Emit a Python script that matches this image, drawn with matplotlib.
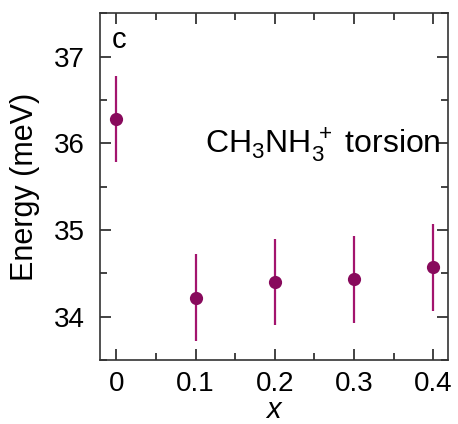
import numpy as np
import matplotlib.pyplot as plt
from matplotlib.ticker import MultipleLocator

plt.rcParams['font.family'] = ['Liberation Sans', 'DejaVu Sans']
plt.rcParams['mathtext.fontset'] = 'custom'
plt.rcParams['mathtext.rm'] = 'Liberation Sans'
plt.rcParams['mathtext.it'] = 'Liberation Sans:italic'

x = [0.0, 0.1, 0.2, 0.3, 0.4]
energy = [36.28, 34.22, 34.40, 34.43, 34.57]
err = [0.50, 0.50, 0.50, 0.50, 0.50]

fig = plt.figure(figsize=(4.58, 4.24), dpi=100)
ax = fig.add_axes([0.2183, 0.151, 0.978 - 0.2183, 0.9686 - 0.151])

ax.errorbar(x, energy, yerr=err, fmt='none', ecolor='#a3146e', elinewidth=1.6, capsize=0)
ax.plot(x, energy, 'o', color='#880a5c', markersize=9.5, markeredgewidth=0)

ax.set_xlim(-0.0206, 0.4186)
ax.set_ylim(33.5, 37.5)
ax.xaxis.set_major_locator(MultipleLocator(0.1))
ax.xaxis.set_minor_locator(MultipleLocator(0.05))
ax.yaxis.set_major_locator(MultipleLocator(1))
ax.yaxis.set_minor_locator(MultipleLocator(0.5))
ax.set_xticks([0, 0.1, 0.2, 0.3, 0.4])
ax.set_xticklabels(['0', '0.1', '0.2', '0.3', '0.4'])

ax.tick_params(which='both', direction='in', top=True, right=True,
               labelsize=20, colors='#222222', labelcolor='black', width=1.2)
ax.tick_params(which='major', length=8)
ax.tick_params(axis='x', which='major', pad=8)
ax.tick_params(axis='y', which='major', pad=11)
ax.tick_params(which='minor', length=5)
for s in ax.spines.values():
    s.set_linewidth(1.2)
    s.set_color('#333333')

ax.set_xlabel('$x$', fontsize=21, labelpad=-1)
ax.set_ylabel('Energy (meV)', fontsize=22, labelpad=10)

ax.text(0.004, 37.1, 'c', fontsize=21, ha='center', va='baseline')
ax.text(0.409, 35.885, r'CH$_3$NH$_3^{\,+}$ torsion', fontsize=23, ha='right', va='baseline')

fig.savefig('out.png', dpi=100)
